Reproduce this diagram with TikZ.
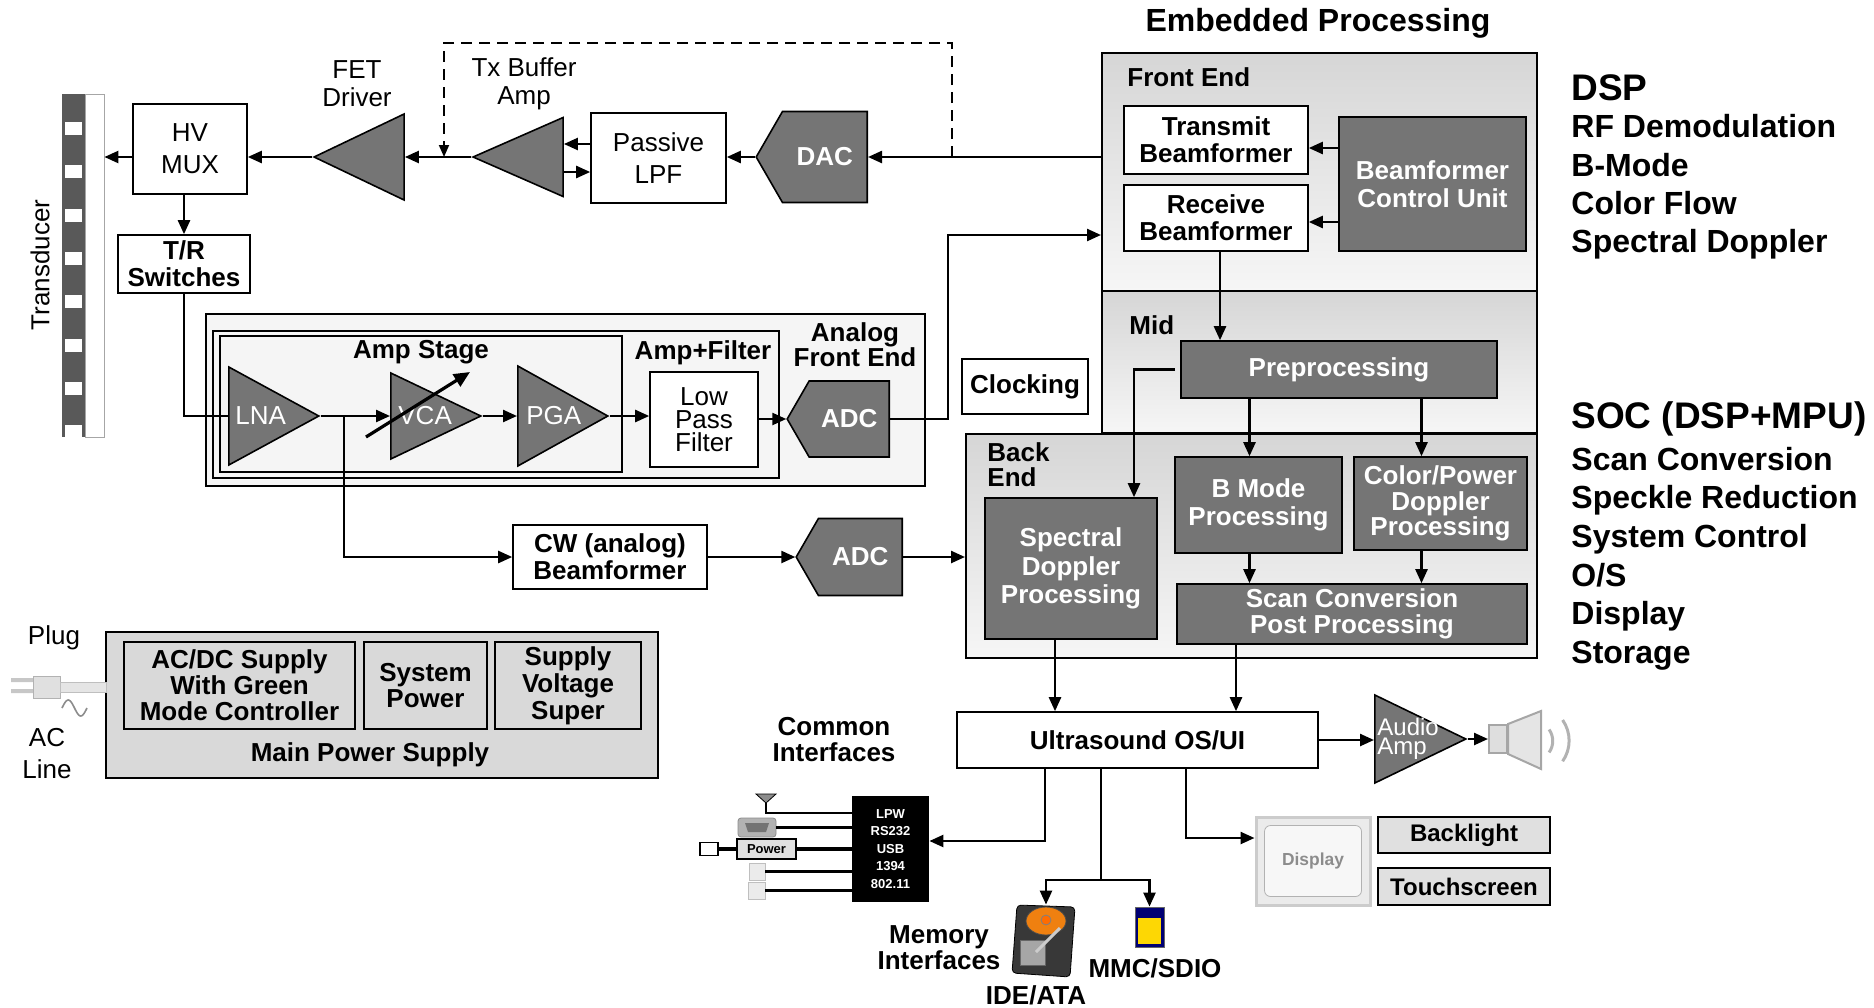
\documentclass[tikz,border=0pt]{standalone}
\usepackage{fontspec}
\setmainfont{Liberation Sans}
\usepackage{tikz}
\usetikzlibrary{arrows.meta, shapes.geometric, shapes.symbols}
\definecolor{blockgray}{HTML}{757575}
\definecolor{panetop}{HTML}{D6D6D6}
\definecolor{panebot}{HTML}{F6F6F6}
\definecolor{afegray}{HTML}{F5F5F5}
\definecolor{psgray}{HTML}{D9D9D9}
\tikzset{wh/.style 2 args={minimum width=#1*0.5pt, minimum height=#2*0.5pt},
    txt/.style={inner sep=0pt, align=center, font=\bfseries\fontsize{13}{14}\selectfont},
    reg/.style={txt, font=\fontsize{13}{14}\selectfont},
    blk/.style={txt, draw, line width=0.8pt, fill=white},
    plainblk/.style={blk, font=\fontsize{13}{16}\selectfont},
    darkblk/.style={blk, fill=blockgray, text=white},
    pane/.style={draw, line width=1pt, top color=panetop, bottom color=panebot},
    conv/.style={darkblk, signal, signal to=west, signal pointer angle=120, anchor=east},
    amp/.style={isosceles triangle, isosceles triangle stretches, draw,
        line width=0.8pt, fill=blockgray, inner sep=0pt},
    amplbl/.style={inner sep=0pt, text=white, anchor=west, font=\fontsize{13}{13}\selectfont},
    heading/.style={inner sep=0pt, anchor=west, align=left, font=\bfseries\fontsize{16}{19.2}\selectfont},
    sig/.style={line width=1.2pt, -{Triangle[length=7pt,width=6pt]}},
    wire/.style={line width=1.2pt},
    fb/.style={line width=0.9pt, dash pattern=on 5.5pt off 3.5pt, -{Triangle[length=6pt,width=5pt]}},
    port/.style={line width=1.8pt}}
\begin{document}
\begin{tikzpicture}[x=0.5pt, y=-0.5pt]
    \useasboundingbox (0,0) rectangle (1874,1007);

    % transducer array
    \node[wh={42}{343}, inner sep=0pt] (xducer) at (83,265.5) {};
    \fill[black!65] (62,94) rectangle (85,437);
    \filldraw[fill=white, draw=black!35] (85,94) rectangle (104,437);
    \foreach \k in {0,...,7}
        \fill[white] (65,{122+43.3*\k}) rectangle (82,{135+43.3*\k});
    \node[reg, rotate=90] (xducerlbl) at (40,265) {Transducer};

    % transmit path
    \node[plainblk, wh={114}{90}] (hvmux) at (190,149) {HV\\MUX};
    \node[blk, wh={132}{58}, font=\bfseries\fontsize{13}{13.5}\selectfont] (trsw) at (184,264) {T/R\\Switches};
    \node[amp, shape border rotate=180, wh={86}{90}, anchor=apex] (fet) at (312,157) {};
    \node[amp, shape border rotate=180, wh={79}{90}, anchor=apex] (txbuf) at (471,157) {};
    \node[reg] (fetlbl) at (357,84) {FET\\Driver};
    \node[reg] (txbuflbl) at (524,84) {Tx Buffer\\Amp};
    \node[plainblk, wh={135}{90}] (lpf) at (658.5,158) {Passive\\LPF};
    \node[conv, wh={111}{91}] (dac) at (868,157) {DAC};

    % embedded processing
    \node[txt, font=\bfseries\fontsize{16}{16}\selectfont] (embtitle) at (1318,23) {Embedded Processing};
    \node[pane, wh={435}{238}] (frontend) at (1319.5,172) {};
    \node[pane, wh={435}{142}] (mid) at (1319.5,362) {};
    \node[pane, wh={571}{224}] (backend) at (1251.5,546) {};
    \node[txt, anchor=west] (felbl) at (1127,77) {Front End};
    \node[txt, anchor=west] (midlbl) at (1129,325) {Mid};
    \node[txt, anchor=west, align=left, font=\bfseries\fontsize{13}{12.5}\selectfont] (belbl) at (987,465) {Back\\End};
    \node[blk, wh={184}{68}, font=\bfseries\fontsize{13}{13.5}\selectfont] (txbf) at (1216,140) {Transmit\\Beamformer};
    \node[blk, wh={184}{66}, font=\bfseries\fontsize{13}{13.5}\selectfont] (rxbf) at (1216,218) {Receive\\Beamformer};
    \node[darkblk, wh={187}{134}] (bcu) at (1432.5,184) {Beamformer\\Control Unit};
    \node[darkblk, wh={316}{57}] (preproc) at (1339,369.5) {Preprocessing};
    \node[darkblk, wh={172}{141}, font=\bfseries\fontsize{13}{14.3}\selectfont] (spectral) at (1071,568.5) {Spectral\\Doppler\\Processing};
    \node[darkblk, wh={167}{96}, font=\bfseries\fontsize{13}{14.3}\selectfont] (bmode) at (1258.5,505) {B Mode\\Processing};
    \node[darkblk, wh={173}{93}, font=\bfseries\fontsize{13}{12.8}\selectfont] (colorpow) at (1440.5,503.5) {Color/Power\\Doppler\\Processing};
    \node[darkblk, wh={350}{60}, font=\bfseries\fontsize{13}{13.2}\selectfont] (scanconv) at (1352,614) {Scan Conversion\\Post Processing};
    \node[blk, wh={126}{55}] (clock) at (1025,386.5) {Clocking};

    % analog front end
    \node[draw, line width=0.8pt, fill=afegray, wh={719}{172}] (afe) at (565.5,400) {};
    \node[draw, line width=0.8pt, wh={566}{147}] (ampfilt) at (496,404.5) {};
    \node[draw, line width=0.8pt, wh={402}{136}] (ampstage) at (421,404) {};
    \node[txt] (ampstagelbl) at (421,352) {Amp Stage};
    \node[txt] (ampfiltlbl) at (703,353) {Amp+Filter};
    \node[txt, font=\bfseries\fontsize{13}{12.5}\selectfont] (afelbl) at (855,345) {Analog\\Front End};
    \node[amp, wh={98}{90}, anchor=lower side] (lna) at (228,416) {};
    \node[amp, wh={86}{90}, anchor=lower side] (vca) at (390,416) {};
    \node[amp, wh={100}{90}, anchor=lower side] (pga) at (517,416) {};
    \node[amplbl] (lnalbl) at ([xshift=3.5pt]lna.lower side) {LNA};
    \node[amplbl] (vcalbl) at ([xshift=4pt]vca.lower side) {VCA};
    \node[amplbl] (pgalbl) at ([xshift=4.5pt]pga.lower side) {PGA};
    \node[plainblk, wh={108}{95}, font=\fontsize{13}{11.5}\selectfont] (lowpass) at (704,419.5) {Low\\Pass\\Filter};
    \node[conv, wh={102}{76}] (adc) at (890,419) {ADC};
    \node[blk, wh={194}{64}, font=\bfseries\fontsize{13}{13.5}\selectfont] (cwbf) at (610,557) {CW (analog)\\Beamformer};
    \node[conv, wh={106}{77}] (adccw) at (903,557) {ADC};

    % power
    \node[draw, line width=0.8pt, fill=psgray, wh={552}{146}] (mainps) at (382,705) {};
    \node[blk, fill=psgray, wh={231}{87}, font=\bfseries\fontsize{13}{13}\selectfont] (acdc) at (239.5,685.5) {AC/DC Supply\\With Green\\Mode Controller};
    \node[blk, fill=psgray, wh={123}{87}, font=\bfseries\fontsize{13}{13}\selectfont] (syspow) at (425.5,685.5) {System\\Power};
    \node[blk, fill=psgray, wh={146}{87}, font=\bfseries\fontsize{13}{13.5}\selectfont] (supvolt) at (568,685.5) {Supply\\Voltage\\Super};
    \node[txt] (mainpslbl) at (370,755) {Main Power Supply};
    \fill[black!22] (11,678) rectangle (33,682) (11,689) rectangle (33,693);
    \filldraw[fill=black!12, draw=black!30] (33,676) rectangle (60,698);
    \filldraw[fill=black!10, draw=black!25] (60,682) rectangle (106,692);
    \draw[black!45, line width=0.8pt, domain=0:1, samples=25, variable=\t]
        plot ({62+25*\t},{708-8*sin(360*\t)});
    \node[reg] (pluglbl) at (54,638) {Plug};
    \node[reg, font=\fontsize{13}{16}\selectfont] (aclbl) at (47,754) {AC\\Line};

    % system side
    \node[blk, wh={361}{56}] (osui) at (1137.5,740) {Ultrasound OS/UI};
    \node[txt, font=\bfseries\fontsize{13}{13}\selectfont] (commonlbl) at (834,740) {Common\\Interfaces};
    \node[fill=black, wh={77}{106}, inner sep=0pt, text=white, align=center,
        font=\bfseries\fontsize{6.5}{8.75}\selectfont] (ifbox) at (890.5,849) {LPW\\RS232\\USB\\1394\\802.11};
    \filldraw[fill=black!45, draw=black] (756,794) -- (776,794) -- (766,803) -- cycle;
    \coordinate (antenna) at (766,803);
    \node[fill=black!30, draw=black!45, rounded corners=1.5pt, wh={38}{19}] (serial) at (757,827.5) {};
    \fill[black!55] (745,823) -- (769,823) -- (766,832) -- (748,832) -- cycle;
    \node[draw, line width=0.8pt, fill=black!12, wh={59}{20}, inner sep=0pt,
        font=\bfseries\fontsize{6.5}{7}\selectfont] (pwr) at (766.5,849) {Power};
    \node[draw, line width=0.8pt, fill=white, wh={18}{10}] (pwrjack) at (709,849) {};
    \node[draw=black!25, fill=black!8, wh={16}{17}] (usb) at (757,871.5) {};
    \node[draw=black!25, fill=black!8, wh={17}{17}] (firewire) at (756.5,890.5) {};
    \node[txt, font=\bfseries\fontsize{13}{13}\selectfont] (memlbl) at (939,948) {Memory\\Interfaces};
    \node[wh={60}{72}, inner sep=0pt] (hdd) at (1046,941) {};
    \filldraw[fill=black!78, draw=black, rounded corners=2pt] (1017,905) -- (1075,907) -- (1070,977) -- (1012,973) -- cycle;
    \filldraw[fill=black!35, draw=black!60] (1020,940) rectangle (1045,965);
    \filldraw[fill=orange!75!brown, draw=black!70] (1046,921) ellipse [x radius=20, y radius=14];
    \filldraw[fill=orange!85!red, draw=black!50] (1046,920) circle [radius=5];
    \draw[black!20, line width=1.5pt] (1060,928) -- (1036,952);
    \node[wh={29}{40}, inner sep=0pt] (sdcard) at (1149.5,927) {};
    \filldraw[fill=blue!45!black, draw=black!60] (1135,907) rectangle (1164,947);
    \fill[yellow!75!orange] (1138,918) rectangle (1161,944);
    \node[txt] (idelbl) at (1036,995) {IDE/ATA};
    \node[txt] (mmclbl) at (1155,968) {MMC/SDIO};
    \node[draw=black!20, line width=1.5pt, fill=black!8, wh={114}{88}] (display) at (1313,861) {};
    \node[draw=black!30, rounded corners=3pt, fill=black!3, wh={97}{71}, text=black!45,
        font=\bfseries\fontsize{8.7}{9}\selectfont] (displaylbl) at (display.center) {Display};
    \node[blk, fill=black!12, wh={172}{36}, font=\bfseries\fontsize{12}{12}\selectfont] (backlight) at (1464,835) {Backlight};
    \node[blk, fill=black!12, wh={172}{37}, font=\bfseries\fontsize{12}{12}\selectfont] (touch) at (1464,886.5) {Touchscreen};
    \node[amp, wh={88}{91}, anchor=lower side] (audioamp) at (1374,739) {};
    \node[amplbl, align=left, font=\fontsize{12}{9.5}\selectfont] (audiolbl) at ([xshift=1.5pt]audioamp.lower side) {Audio\\Amp};
    \node[draw=black!35, fill=black!13, line width=1pt, wh={18}{28}] (speaker) at (1498,739) {};
    \filldraw[draw=black!35, fill=black!10, line width=1pt] (speaker.north east) -- ++(33,-13) -- ++(0,58) -- (speaker.south east) -- cycle;
    \draw[black!30, line width=1.5pt] (1549.1,729.5) arc [start angle=35, end angle=-35, radius=10pt];
    \draw[black!30, line width=1.5pt] (1562.6,720.0) arc [start angle=35, end angle=-35, radius=18pt];

    % right hand lists
    \node[heading, font=\bfseries\fontsize{18.5}{20}\selectfont] (dsp) at (1571,88) {DSP};
    \node[heading] (dsplist) at (1571,187) {RF Demodulation\\B-Mode\\Color Flow\\Spectral Doppler};
    \node[heading, font=\bfseries\fontsize{18.5}{20}\selectfont] (soc) at (1571,419) {SOC (DSP+MPU)};
    \node[heading, font=\bfseries\fontsize{16}{19.3}\selectfont] (soclist) at (1571,558.5) {Scan Conversion\\Speckle Reduction\\System Control\\O/S\\Display\\Storage};

    % connections
    \draw[sig] (fet.apex) -- (fet.apex -| hvmux.east);
    \draw[sig] (hvmux.west |- fet.apex) -- (fet.apex -| xducer.east);
    \draw[sig] (trsw.north |- hvmux.south) -- (trsw.north);
    \draw[sig] (txbuf.apex) -- (txbuf.apex -| fet.lower side);
    \draw[sig] ([yshift=7pt]lpf.west) -- ([yshift=7pt]lpf.west -| txbuf.lower side);
    \draw[sig] ([yshift=-7pt]lpf.west -| txbuf.lower side) -- ([yshift=-7pt]lpf.west);
    \draw[sig] (dac.west) -- (dac.west -| lpf.east);
    \draw[sig] (dac.east -| frontend.west) -- (dac.east);
    \coordinate (fbtap) at (952,157);
    \coordinate (fbcorner) at (444,43);
    \draw[fb] (fbtap) |- (fbcorner) -- (fbcorner |- fet.apex);
    \draw[sig] ([yshift=-4pt]txbf.east -| bcu.west) -- ([yshift=-4pt]txbf.east);
    \draw[sig] ([yshift=-2pt]rxbf.east -| bcu.west) -- ([yshift=-2pt]rxbf.east);
    \draw[sig] ([xshift=2pt]rxbf.south) -- ([xshift=2pt]rxbf.south |- preproc.north);
    \draw[sig] ([xshift=-2.5pt]preproc.west) -| ([xshift=31.5pt]spectral.north);
    \draw[sig] ([xshift=-4.5pt]bmode.north |- preproc.south) -- ([xshift=-4.5pt]bmode.north);
    \draw[sig] ([xshift=-9.5pt]colorpow.north |- preproc.south) -- ([xshift=-9.5pt]colorpow.north);
    \draw[sig] ([xshift=-4.5pt]bmode.south) -- ([xshift=-4.5pt]bmode.south |- scanconv.north);
    \draw[sig] ([xshift=-9.5pt]colorpow.south) -- ([xshift=-9.5pt]colorpow.south |- scanconv.north);
    \draw[wire] (trsw.south) |- (lna.lower side);
    \draw[sig] (lna.apex) -- (vca.lower side);
    \draw[sig] (vca.apex) -- (pga.lower side);
    \draw[sig] (pga.apex) -- (pga.apex -| lowpass.west);
    \draw[sig] (lowpass.east |- adc.west) -- (adc.west);
    \draw[line width=1.6pt, -{Triangle[length=8pt,width=7pt]}] ([shift={(-24,21)}]vca.lower side) -- ([shift={(80,-44)}]vca.lower side);
    \coordinate (afejog) at (948,235);
    \draw[sig] (adc.east) -| (afejog) -- (afejog -| frontend.west);
    \draw[sig] ([xshift=11.5pt]lna.apex) |- (cwbf.west);
    \draw[sig] (cwbf.east) -- (adccw.west);
    \draw[sig] (adccw.east) -- (adccw.east -| backend.west);
    \draw[sig] ([xshift=-8pt]spectral.south) -- ([xshift=-8pt]spectral.south |- osui.north);
    \draw[sig] ([xshift=-58pt]scanconv.south) -- ([xshift=-58pt]scanconv.south |- osui.north);
    \draw[sig] ([xshift=-46.25pt]osui.south) |- ([yshift=4pt]ifbox.east);
    \draw[line width=0.7pt] (antenna) |- ([yshift=18pt]ifbox.west);
    \draw[port] (serial.east) -- (serial.east -| ifbox.west);
    \draw[port] (pwrjack.east) -- (pwr.west);
    \draw[port] (pwr.east) -- (pwr.east -| ifbox.west);
    \draw[port] (usb.east) -- (usb.east -| ifbox.west);
    \draw[port] (firewire.east) -- (firewire.east -| ifbox.west);
    \coordinate (memsplit) at (1101,880);
    \draw[wire] (osui.south -| memsplit) -- (memsplit);
    \draw[sig] (memsplit) -| (hdd.north);
    \draw[sig] (memsplit) -| (sdcard.north);
    \draw[sig] ([xshift=24.25pt]osui.south) |- ([yshift=11.5pt]display.west);
    \draw[sig] (osui.east) -- (osui.east -| audioamp.lower side);
    \draw[sig] (audioamp.apex) -- (speaker.west);
\end{tikzpicture}
\end{document}
